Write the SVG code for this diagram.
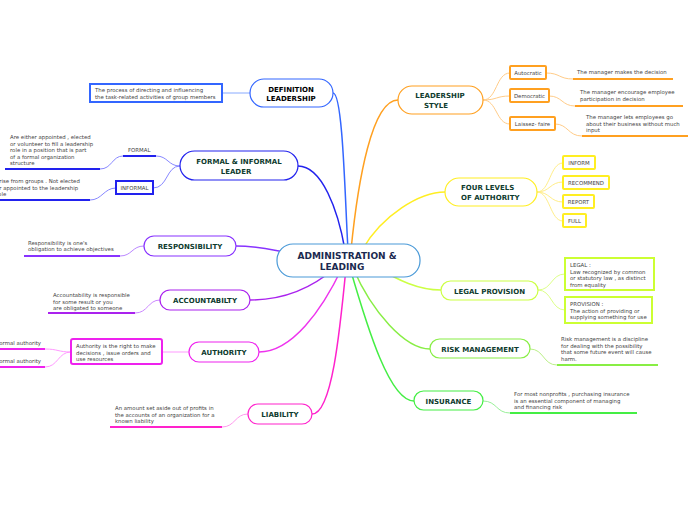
<svg xmlns="http://www.w3.org/2000/svg" width="696" height="520" viewBox="0 0 696 520">
<style>
.t{font-family:"DejaVu Sans",Verdana,sans-serif;font-size:5.4px;fill:#444}
.n{font-family:"DejaVu Sans",Verdana,sans-serif;font-weight:bold;font-size:7px;fill:#0e3b2e;text-anchor:middle}
.nd{fill:#fff;stroke-width:1.2}
.bx{fill:#fff;stroke-width:2}
.c{fill:none;stroke-width:1.5}
.s{fill:none;stroke-width:1}
.u{fill:none;stroke-width:2}
</style>
<rect width="696" height="520" fill="#fff"/>
<g id="connectors">
<path class="c" stroke="#3366ff" d="M333,93 C343,93 345,200 348,250"/>
<path class="c" stroke="#2222ee" d="M298,166 C322,166 338,210 345,250"/>
<path class="c" stroke="#ffa020" d="M398,100 C372,100 358,180 351,250"/>
<path class="c" stroke="#ffee22" d="M445,192 C420,192 382,215 362,250"/>
<path class="c" stroke="#8833ff" d="M236,246 C255,246 268,249 285,252"/>
<path class="c" stroke="#aa22ee" d="M250,300 C285,300 312,288 335,268"/>
<path class="c" stroke="#ee33ee" d="M259,352 C292,352 322,310 342,268"/>
<path class="c" stroke="#ff22cc" d="M312,414 C332,414 340,330 346,268"/>
<path class="c" stroke="#ccff44" d="M441,290 C418,290 398,280 378,268"/>
<path class="c" stroke="#88ee44" d="M430,349 C405,349 372,312 353,268"/>
<path class="c" stroke="#44ee44" d="M414,401 C390,401 368,330 350,268"/>
<path class="s" stroke="#88aaff" d="M222,93 L250,93"/>
<path class="s" stroke="#8888ff" d="M180,166 C168,166 168,156 156,156"/>
<path class="s" stroke="#8888ff" d="M180,166 C166,166 168,188 153,188"/>
<path class="s" stroke="#8888ff" d="M100,169 C112,169 112,156 123,156"/>
<path class="s" stroke="#8888ff" d="M90,200 C102,200 104,188 116,188"/>
<path class="s" stroke="#bb88ff" d="M120,256 C132,256 132,246 144,246"/>
<path class="s" stroke="#cc88ff" d="M135,313 C148,313 148,300 160,300"/>
<path class="s" stroke="#ff99ff" d="M162,352 L189,352"/>
<path class="s" stroke="#ff99ff" d="M45,349 C58,349 58,352 71,352"/>
<path class="s" stroke="#ff99ff" d="M45,367 C58,367 58,352 71,352"/>
<path class="s" stroke="#ff99ee" d="M222,427 C235,427 235,414 248,414"/>
<path class="s" stroke="#ffcc88" d="M483,100 C497,100 496,73 510,73"/>
<path class="s" stroke="#ffcc88" d="M483,100 C497,100 496,96 510,96"/>
<path class="s" stroke="#ffcc88" d="M483,100 C497,100 496,124 510,124"/>
<path class="s" stroke="#ffcc88" d="M546,73 C560,73 559,79 573,79"/>
<path class="s" stroke="#ffcc88" d="M549,96 C562,96 562,106 575,106"/>
<path class="s" stroke="#ffcc88" d="M555,124 C568,124 568,136 582,136"/>
<path class="s" stroke="#ffee88" d="M537,192 C550,192 550,163 563,163"/>
<path class="s" stroke="#ffee88" d="M537,192 C550,192 550,182 563,182"/>
<path class="s" stroke="#ffee88" d="M537,192 C550,192 550,202 563,202"/>
<path class="s" stroke="#ffee88" d="M537,192 C550,192 550,221 563,221"/>
<path class="s" stroke="#ddff88" d="M538,290 C552,290 551,274 565,274"/>
<path class="s" stroke="#ddff88" d="M538,290 C552,290 551,310 565,310"/>
<path class="s" stroke="#bbf088" d="M530,349 C544,349 543,365 557,365"/>
<path class="s" stroke="#99f099" d="M483,401 C497,401 496,413 510,413"/>
<path class="u" stroke="#2222ee" d="M123,156 L156,156"/>
<path class="u" stroke="#2222ee" d="M5,169 L100,169"/>
<path class="u" stroke="#2222ee" d="M0,200 L90,200"/>
<path class="u" stroke="#8833ff" d="M24,256 L120,256"/>
<path class="u" stroke="#aa22ee" d="M48,313 L135,313"/>
<path class="u" stroke="#ee22ee" d="M0,349 L45,349"/>
<path class="u" stroke="#ee22ee" d="M0,367 L45,367"/>
<path class="u" stroke="#ff22cc" d="M110,427 L222,427"/>
<path class="u" stroke="#ffa020" d="M573,79 L673,79"/>
<path class="u" stroke="#ffa020" d="M575,106 L683,106"/>
<path class="u" stroke="#ffa020" d="M582,136 L688,136"/>
<path class="u" stroke="#88ee44" d="M557,365 L658,365"/>
<path class="u" stroke="#44ee44" d="M510,413 L637,413"/>
</g>
<g id="center">
<rect class="nd" x="277" y="244" width="143" height="33" rx="16" stroke="#4a9ad8"/>
<text class="n" x="347" y="259" style="font-size:9px;fill:#1b2a50">ADMINISTRATION &amp;</text>
<text class="n" x="342" y="270" style="font-size:9px;fill:#1b2a50">LEADING</text>
</g>
<g id="definition">
<rect class="nd" x="250" y="79" width="83" height="28" rx="14" stroke="#3366ff"/>
<text class="n" x="291" y="92" style="fill:#000">DEFINITION</text>
<text class="n" x="291" y="101" style="fill:#000">LEADERSHIP</text>
</g>
<g id="definition-text">
<rect class="bx" x="90" y="84" width="132" height="18" stroke="#3366ff"/>
<text class="t" x="95" y="92">The process of directing and influencing</text>
<text class="t" x="95" y="99">the task-related activities of group members</text>
</g>
<g id="formal-informal">
<rect class="nd" x="180" y="151" width="118" height="29" rx="14.5" stroke="#2222ee"/>
<text class="n" x="239" y="164">FORMAL &amp; INFORMAL</text>
<text class="n" x="236" y="174">LEADER</text>
</g>
<g id="formal">
<text class="t" x="128" y="152">FORMAL</text>
<text class="t" x="10" y="139">Are either appointed , elected</text>
<text class="t" x="10" y="145.5">or volunteer to fill a leadership</text>
<text class="t" x="10" y="152">role in a position that is part</text>
<text class="t" x="10" y="158.5">of a formal organization</text>
<text class="t" x="10" y="165">structure</text>
</g>
<g id="informal">
<rect class="bx" x="116" y="181" width="37" height="13" stroke="#2222ee"/>
<text class="t" x="134.5" y="190" text-anchor="middle">INFORMAL</text>
<text class="t" x="-4" y="183">arise from groups . Not elected</text>
<text class="t" x="-4" y="189.5">or appointed to the leadership</text>
<text class="t" x="-4" y="196">role</text>
</g>
<g id="responsibility">
<rect class="nd" x="144" y="236" width="92" height="20" rx="10" stroke="#8833ff"/>
<text class="n" x="190" y="249">RESPONSIBILITY</text>
<text class="t" x="28" y="245">Responsibility is one's</text>
<text class="t" x="28" y="251">obligation to achieve objectives</text>
</g>
<g id="accountability">
<rect class="nd" x="160" y="290" width="90" height="20" rx="10" stroke="#aa22ee"/>
<text class="n" x="205" y="303">ACCOUNTABILTY</text>
<text class="t" x="53" y="297">Accountability is responsible</text>
<text class="t" x="53" y="303.5">for some result or you</text>
<text class="t" x="53" y="310">are obligated to someone</text>
</g>
<g id="authority">
<rect class="nd" x="189" y="342" width="70" height="20" rx="10" stroke="#ee22ee"/>
<text class="n" x="224" y="355">AUTHORITY</text>
<rect class="bx" x="71" y="339" width="91" height="25" rx="2" stroke="#ee22ee"/>
<text class="t" x="76" y="348">Authority is the right to make</text>
<text class="t" x="76" y="354.5">decisions , issue orders and</text>
<text class="t" x="76" y="361">use resources</text>
<text class="t" x="41" y="345" text-anchor="end">Formal authority</text>
<text class="t" x="41" y="363" text-anchor="end">Informal authority</text>
</g>
<g id="liability">
<rect class="nd" x="248" y="404" width="64" height="20" rx="10" stroke="#ff22cc"/>
<text class="n" x="280" y="417">LIABILITY</text>
<text class="t" x="115" y="410">An amount set aside out of profits in</text>
<text class="t" x="115" y="416.5">the accounts of an organization for a</text>
<text class="t" x="115" y="423">known liability</text>
</g>
<g id="leadership-style">
<rect class="nd" x="398" y="86" width="85" height="28" rx="14" stroke="#ffa020"/>
<text class="n" x="440" y="98">LEADERSHIP</text>
<text class="n" x="436" y="108">STYLE</text>
</g>
<g id="autocratic">
<rect class="bx" x="510" y="66" width="36" height="13" rx="1" stroke="#ffa020"/>
<text class="t" x="528" y="75" text-anchor="middle">Autocratic</text>
<text class="t" x="577" y="74">The manager makes the decision</text>
</g>
<g id="democratic">
<rect class="bx" x="510" y="89" width="39" height="13" rx="1" stroke="#ffa020"/>
<text class="t" x="529.5" y="98" text-anchor="middle">Democratic</text>
<text class="t" x="580" y="94">The manager encourage employee</text>
<text class="t" x="580" y="101">participation in decision</text>
</g>
<g id="laissez-faire">
<rect class="bx" x="510" y="117" width="45" height="13" rx="1" stroke="#ffa020"/>
<text class="t" x="532.5" y="126" text-anchor="middle">Laissez- faire</text>
<text class="t" x="586" y="119">The manager lets employees go</text>
<text class="t" x="586" y="125.5">about their business without much</text>
<text class="t" x="586" y="132">input</text>
</g>
<g id="four-levels">
<rect class="nd" x="445" y="178" width="92" height="28" rx="14" stroke="#ffee22"/>
<text class="n" x="461" y="190" style="text-anchor:start">FOUR LEVELS</text>
<text class="n" x="461" y="200" style="text-anchor:start">OF AUTHORITY</text>
</g>
<g id="inform"><rect class="bx" x="563" y="156" width="32" height="13" rx="1" stroke="#ffee22"/><text class="t" x="579" y="165" text-anchor="middle">INFORM</text></g>
<g id="recommend"><rect class="bx" x="563" y="176" width="46" height="13" rx="1" stroke="#ffee22"/><text class="t" x="586" y="185" text-anchor="middle">RECOMMEND</text></g>
<g id="report"><rect class="bx" x="563" y="195" width="31" height="13" rx="1" stroke="#ffee22"/><text class="t" x="578.5" y="204" text-anchor="middle">REPORT</text></g>
<g id="full"><rect class="bx" x="563" y="214" width="23" height="13" rx="1" stroke="#ffee22"/><text class="t" x="574.5" y="223" text-anchor="middle">FULL</text></g>
<g id="legal-provision">
<rect class="nd" x="441" y="281" width="97" height="19" rx="9.5" stroke="#ccff44"/>
<text class="n" x="489.5" y="293.5">LEGAL PROVISION</text>
</g>
<g id="legal">
<rect class="bx" x="565" y="258" width="89" height="32" stroke="#ccff33"/>
<text class="t" x="570" y="267">LEGAL :</text>
<text class="t" x="570" y="273.5">Law recognized by common</text>
<text class="t" x="570" y="280">or statutory law , as distinct</text>
<text class="t" x="570" y="286.5">from equality</text>
</g>
<g id="provision">
<rect class="bx" x="565" y="297" width="87" height="26" stroke="#ccff33"/>
<text class="t" x="570" y="306">PROVISION :</text>
<text class="t" x="570" y="312.5">The action of providing or</text>
<text class="t" x="570" y="319">supplying something for use</text>
</g>
<g id="risk-management">
<rect class="nd" x="430" y="339" width="100" height="19" rx="9.5" stroke="#88ee44"/>
<text class="n" x="480" y="351.5">RISK MANAGEMENT</text>
<text class="t" x="561" y="341">Risk management is a discipline</text>
<text class="t" x="561" y="347.5">for dealing with the possibility</text>
<text class="t" x="561" y="354">that some future event will cause</text>
<text class="t" x="561" y="360.5">harm.</text>
</g>
<g id="insurance">
<rect class="nd" x="414" y="391" width="69" height="19" rx="9.5" stroke="#44ee44"/>
<text class="n" x="448.5" y="403.5">INSURANCE</text>
<text class="t" x="514" y="396">For most nonprofits , purchasing insurance</text>
<text class="t" x="514" y="402.5">is an essential component of managing</text>
<text class="t" x="514" y="409">and financing risk</text>
</g>
</svg>
